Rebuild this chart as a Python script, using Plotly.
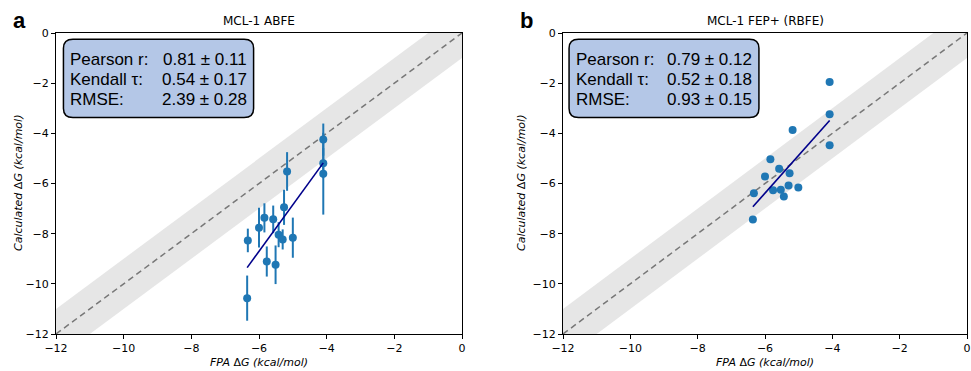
import numpy as np
import plotly.graph_objects as go

# experimental (shared x) values
exp_dg = [-4.10, -4.10, -4.10, -5.17, -5.26, -5.84, -6.00, -5.58, -6.33, -5.42, -5.30, -5.00, -5.77, -5.51, -6.35]
# panel a: ABFE
abfe_dg = [-4.25, -5.19, -5.61, -5.52, -6.95, -7.37, -7.76, -7.43, -8.27, -8.04, -8.23, -8.16, -9.11, -9.24, -10.57]
abfe_err = [0.64, 0.60, 1.63, 0.77, 0.70, 0.58, 0.79, 0.55, 0.47, 0.50, 0.40, 0.80, 0.60, 0.77, 0.90]
# panel b: FEP+ (RBFE)
exp_dg_b = [-4.08, -4.08, -4.08, -5.18, -5.84, -5.58, -5.27, -6.00, -6.33, -5.76, -5.53, -5.30, -5.01, -5.44, -6.36]
fep_dg = [-1.95, -3.24, -4.48, -3.87, -5.03, -5.41, -5.59, -5.72, -6.39, -6.27, -6.25, -6.08, -6.16, -6.52, -7.44]

titles = ["MCL-1 ABFE", "MCL-1 FEP+ (RBFE)"]
panel_letters = ["a", "b"]
stat_labels = ["Pearson r:", "Kendall τ:", "RMSE:"]
stats_a = ["0.81 ± 0.11", "0.54 ± 0.17", "2.39 ± 0.28"]
stats_b = ["0.79 ± 0.12", "0.52 ± 0.18", "0.93 ± 0.15"]
tick_vals = [-12, -10, -8, -6, -4, -2, 0]
diag = [-12, 0]
band = 1.0

W, H = 971, 371
BLUE = "#1f77b4"

fig = go.Figure()

def px_x(p):
    return p / W

def px_y(p):
    return 1 - p / H

domains = [(56, 462), (563, 967)]
ydom = [px_y(334), px_y(33)]

panels = [
    (exp_dg, abfe_dg, abfe_err, stats_a),
    (exp_dg_b, fep_dg, None, stats_b),
]

for i, (xs, ys, errs, stats) in enumerate(panels):
    xa = "x" if i == 0 else "x2"
    ya = "y" if i == 0 else "y2"
    # band
    bx = [-13, 1, 1, -13]
    by = [-13 + band, 1 + band, 1 - band, -13 - band]
    fig.add_trace(go.Scatter(x=bx, y=by, fill="toself", fillcolor="rgba(128,128,128,0.2)",
                             line=dict(width=0), mode="lines", xaxis=xa, yaxis=ya,
                             hoverinfo="skip", showlegend=False))
    fig.add_trace(go.Scatter(x=diag, y=diag, mode="lines",
                             line=dict(color="#777777", width=1.5, dash="6px,4px"),
                             xaxis=xa, yaxis=ya, showlegend=False))
    ebar = dict(type="data", array=errs, visible=True, color=BLUE, thickness=2, width=0) if errs else None
    fig.add_trace(go.Scatter(x=xs, y=ys, mode="markers", marker=dict(color=BLUE, size=8),
                             error_y=ebar, xaxis=xa, yaxis=ya, showlegend=False))
    # fit line
    m, c = np.polyfit(xs, ys, 1)
    fx = np.array([min(xs), max(xs)])
    fig.add_trace(go.Scatter(x=fx, y=m * fx + c, mode="lines", line=dict(color="darkblue", width=1.6),
                             xaxis=xa, yaxis=ya, showlegend=False))

    x0d, x1d = domains[i]
    axis_common = dict(range=[-12, 0], tickvals=tick_vals, ticks="outside", ticklen=4, tickwidth=1,
                       tickcolor="black", showline=True, linecolor="black", linewidth=1, mirror=True,
                       showgrid=False, zeroline=False, automargin=False, ticklabeloverflow="allow",
                       tickfont=dict(family="DejaVu Sans", size=11, color="black"))
    fig.update_layout(**{
        ("xaxis" if i == 0 else "xaxis2"): dict(domain=[px_x(x0d), px_x(x1d)], anchor=ya, **axis_common),
        ("yaxis" if i == 0 else "yaxis2"): dict(domain=ydom, anchor=xa, **axis_common),
    })

    # stats box (rounded) in data coordinates
    bx0, bx1 = (-11.78, -6.16) if i == 0 else (-11.82, -6.18)
    by0, by1 = -3.37, -0.25
    rx, ry = 0.28, 0.36
    path = (f"M {bx0+rx},{by1} L {bx1-rx},{by1} Q {bx1},{by1} {bx1},{by1-ry} "
            f"L {bx1},{by0+ry} Q {bx1},{by0} {bx1-rx},{by0} L {bx0+rx},{by0} "
            f"Q {bx0},{by0} {bx0},{by0+ry} L {bx0},{by1-ry} Q {bx0},{by1} {bx0+rx},{by1} Z")
    fig.add_shape(type="path", path=path, xref=xa, yref=ya, fillcolor="#b4c7e7",
                  line=dict(color="black", width=1.5), layer="above")
    lab_x = -11.645 if i == 0 else -11.67
    val_x = -6.29 if i == 0 else -6.34
    for j, (lab, val) in enumerate(zip(stat_labels, stats)):
        yy = -1.04 - 0.8 * j
        fig.add_annotation(x=lab_x, y=yy, xref=xa, yref=ya, text=lab, showarrow=False,
                           xanchor="left", yanchor="middle",
                           font=dict(family="Liberation Sans", size=17, color="black"))
        fig.add_annotation(x=val_x, y=yy, xref=xa, yref=ya, text=val, showarrow=False,
                           xanchor="right", yanchor="middle",
                           font=dict(family="Liberation Sans", size=17, color="black"))

    cx = (x0d + x1d) / 2
    fig.add_annotation(x=px_x(cx), y=px_y(21), xref="paper", yref="paper", text=titles[i],
                       showarrow=False, xanchor="center", yanchor="middle",
                       font=dict(family="DejaVu Sans", size=12, color="black"))
    fig.add_annotation(x=px_x(19 if i == 0 else 526), y=px_y(20), xref="paper", yref="paper",
                       text=f"<b>{panel_letters[i]}</b>", showarrow=False, xanchor="center", yanchor="middle",
                       font=dict(family="Liberation Sans", size=22, color="black"))
    fig.add_annotation(x=px_x(cx), y=px_y(362), xref="paper", yref="paper",
                       text="<i>FPA</i> Δ<i>G</i> <i>(kcal/mol)</i>", showarrow=False,
                       xanchor="center", yanchor="middle",
                       font=dict(family="DejaVu Sans", size=11, color="black"))
    fig.add_annotation(x=px_x(18 if i == 0 else 521), y=px_y(183), xref="paper", yref="paper",
                       text="<i>Calculated</i> Δ<i>G</i> <i>(kcal/mol)</i>", showarrow=False, textangle=-90,
                       xanchor="center", yanchor="middle",
                       font=dict(family="DejaVu Sans", size=11, color="black"))

fig.update_layout(width=W, height=H, margin=dict(l=0, r=0, t=0, b=0, autoexpand=False),
                  paper_bgcolor="white", plot_bgcolor="white", showlegend=False)

fig.write_html("out.html", config={"displayModeBar": False},
               post_script="document.body.style.margin='0px';document.body.style.overflow='hidden';")
